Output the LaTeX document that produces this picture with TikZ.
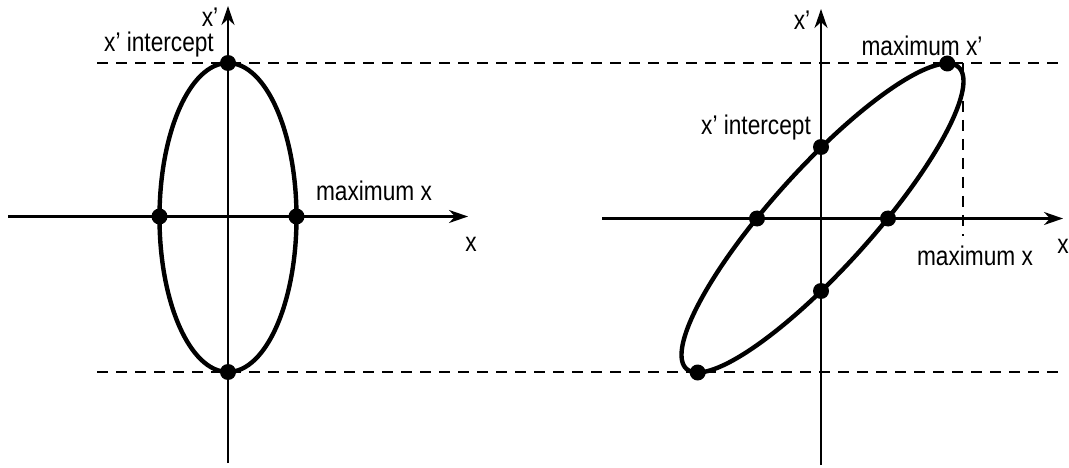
\documentclass[tikz,border=0pt]{standalone}
\usepackage{fontspec}
\setmainfont[FakeStretch=0.84]{Liberation Sans}
\usetikzlibrary{arrows.meta}
\begin{document}
\begin{tikzpicture}[x=1pt,y=-1pt,
  axis/.style={line width=2.2pt,-{Stealth[length=19pt,width=13pt,inset=6pt]}},
  guide/.style={line width=1.5pt,dash pattern=on 11pt off 8pt},
  curve/.style={line width=4.4pt},
  dot/.style={circle,fill=black,inner sep=0pt,minimum size=16pt},
  lbl/.style={inner sep=0pt,font=\fontsize{27}{32}\selectfont}]
\useasboundingbox (0,0) rectangle (1069,468);
% guide lines
\coordinate (gtl) at (97,63);
\coordinate (gtr) at (1060,63);
\coordinate (gbl) at (97,372);
\coordinate (gbr) at (1060,372);
\coordinate (gvt) at (963,63);
\coordinate (gvb) at (963,236);
\draw[guide] (gtl) -- (gtr);
\draw[guide] (gbl) -- (gbr);
\draw[guide] (gvt) -- (gvb);
% left axes
\coordinate (lxs) at (8,216.5);
\coordinate (lxe) at (468,216.5);
\coordinate (lys) at (228,463);
\coordinate (lye) at (228,6);
\draw[axis] (lxs) -- (lxe);
\draw[axis] (lys) -- (lye);
% right axes
\coordinate (rxs) at (602,218.5);
\coordinate (rxe) at (1063,218.5);
\coordinate (rys) at (821,465);
\coordinate (rye) at (821,9);
\draw[axis] (rxs) -- (rxe);
\draw[axis] (rys) -- (rye);
% left ellipse
\draw[curve] (228,217.5) ellipse [x radius=68.5, y radius=154.5];
% right ellipse
\draw[curve] plot[domain=0:360,samples=160,smooth cycle,variable=\t]
  ({822.5+141*cos(\t)},{218-154.5*cos(\t-27.7)});
% left dots
\node[dot] (la) at (228,63) {};
\node[dot] (lb) at (228,372) {};
\node[dot] (lc) at (159.5,216.5) {};
\node[dot] (ld) at (296.5,216.5) {};
% right dots
\node[dot] (ra) at (947.3,63.5) {};
\node[dot] (rb) at (697.7,372.5) {};
\node[dot] (rc) at (757,218.5) {};
\node[dot] (rd) at (888,218.5) {};
\node[dot] (re) at (821,147) {};
\node[dot] (rf) at (821,291) {};
% labels
\node[lbl] (t1) at (210,17) {x'};
\node[lbl] (t2) at (159,45) {x’ intercept};
\node[lbl] (t3) at (374,191) {maximum x};
\node[lbl] (t4) at (471,244) {x};
\node[lbl] (t5) at (802,20) {x'};
\node[lbl] (t6) at (922,46) {maximum x’};
\node[lbl] (t7) at (756,128) {x’ intercept};
\node[lbl] (t8) at (975,256) {maximum x};
\node[lbl] (t9) at (1063,246) {x};
\end{tikzpicture}
\end{document}
